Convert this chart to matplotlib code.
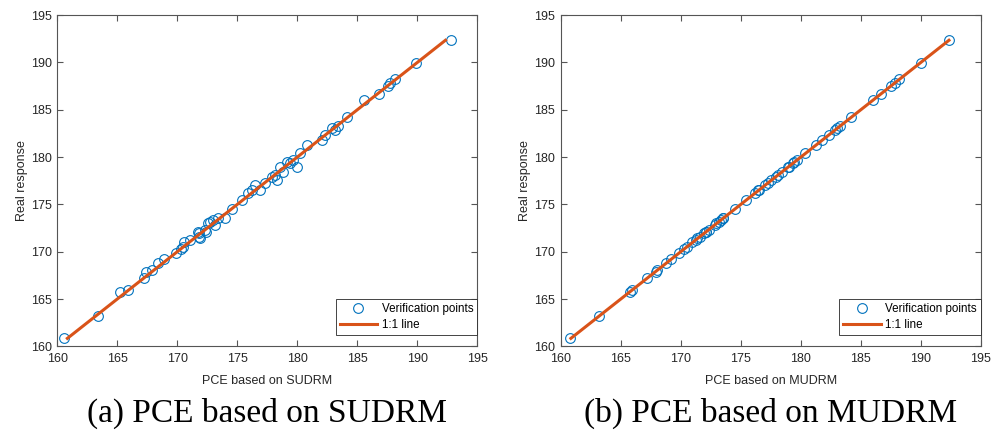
import matplotlib
matplotlib.use("Agg")
import matplotlib.pyplot as plt

# real response of the verification points
real_response = [160.84, 163.20, 165.70, 165.98, 167.24, 167.88, 168.06, 168.76, 169.25, 169.82,
                 170.24, 170.52, 170.98, 171.22, 171.40, 171.57, 171.93, 172.10, 172.10, 172.28,
                 172.81, 172.99, 173.16, 173.34, 173.52, 173.52, 174.47, 175.45, 176.16, 176.50,
                 176.50, 177.03, 177.21, 177.56, 177.91, 178.09, 178.44, 178.97, 178.97, 179.32,
                 179.49, 179.67, 180.38, 181.26, 181.78, 182.31, 182.84, 183.02, 183.26, 184.18,
                 186.08, 186.61, 187.52, 187.84, 188.23, 189.95, 192.34]

# PCE prediction, SUDRM
pce_sudrm = [160.58, 163.42, 165.23, 165.87, 167.25, 167.37, 167.87, 168.42, 168.92, 169.87,
             170.31, 170.50, 170.58, 171.06, 171.89, 171.81, 171.81, 172.37, 171.75, 172.31,
             173.14, 172.58, 172.73, 173.00, 173.42, 173.97, 174.53, 175.37, 175.92, 176.20,
             176.89, 176.48, 177.31, 178.28, 177.87, 178.14, 178.83, 178.56, 179.95, 179.39,
             179.12, 179.67, 180.22, 180.78, 182.03, 182.31, 183.14, 182.87, 183.42, 184.12,
             185.58, 186.83, 187.53, 187.73, 188.14, 189.89, 192.78]

# PCE prediction, MUDRM
pce_mudrm = [160.80, 163.22, 165.74, 165.95, 167.20, 167.91, 168.02, 168.80, 169.22, 169.85,
             170.27, 170.49, 170.95, 171.25, 171.38, 171.60, 171.90, 172.13, 172.07, 172.31,
             172.84, 172.96, 173.19, 173.31, 173.55, 173.49, 174.50, 175.42, 176.19, 176.47,
             176.53, 177.00, 177.24, 177.53, 177.94, 178.06, 178.47, 178.94, 179.00, 179.35,
             179.46, 179.70, 180.35, 181.29, 181.75, 182.34, 182.81, 183.05, 183.23, 184.21,
             186.05, 186.64, 187.49, 187.87, 188.20, 189.98, 192.31]

ticks = [160, 165, 170, 175, 180, 185, 190, 195]
xlabels = ["PCE based on SUDRM", "PCE based on MUDRM"]
captions = ["(a) PCE based on SUDRM", "(b) PCE based on MUDRM"]

BLUE = "#0072BD"
ORANGE = "#D95319"
AXCOL = "#555555"
TXT = "#262626"

plt.rcParams["font.family"] = ["Liberation Sans", "DejaVu Sans"]

fig = plt.figure(figsize=(10.05, 4.44), dpi=100)
lefts = [0.057, 0.558]

for i, xs in enumerate([pce_sudrm, pce_mudrm]):
    ax = fig.add_axes([lefts[i], 0.22, 0.418, 0.746])
    ax.plot(xs, real_response, "o", mfc="none", mec=BLUE, ms=7, mew=0.8,
            label="Verification points")
    lo, hi = min(real_response), max(real_response)
    ax.plot([lo, hi], [lo, hi], "-", color=ORANGE, lw=2.2, label="1:1 line")
    ax.set_xlim(160, 195)
    ax.set_ylim(160, 195)
    ax.set_xticks(ticks)
    ax.set_yticks(ticks)
    ax.tick_params(direction="in", length=4, width=0.8, top=True, right=True,
                   labelsize=9, labelcolor=TXT, color=AXCOL)
    ax.tick_params(axis="x", pad=5)
    ax.tick_params(axis="y", pad=4)
    for s in ax.spines.values():
        s.set_color(AXCOL)
        s.set_linewidth(0.8)
    ax.set_xlabel(xlabels[i], fontsize=9, color=TXT, labelpad=7)
    ax.set_ylabel("Real response", fontsize=9, color=TXT, labelpad=2)
    leg = ax.legend(loc="lower right", bbox_to_anchor=(1.0, 0.033), fontsize=8.4,
                    fancybox=False, framealpha=1, edgecolor=TXT,
                    handlelength=3.2, handletextpad=0.4, borderpad=0.35,
                    labelspacing=0.35, borderaxespad=0.0)
    leg.get_frame().set_linewidth(0.6)
    fig.text(lefts[i] + 0.418 / 2, 0.05, captions[i], ha="center", va="baseline",
             fontsize=24, family=["Liberation Serif", "DejaVu Serif"])

fig.savefig("out.png", dpi=100)
